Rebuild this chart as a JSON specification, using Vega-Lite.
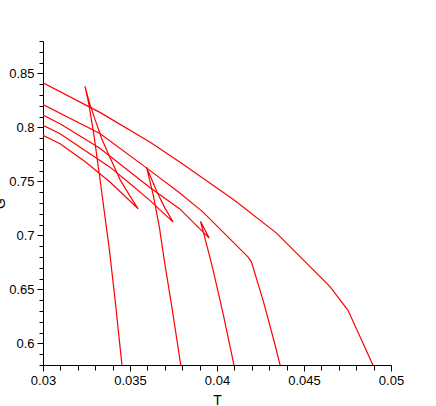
{
  "$schema": "https://vega.github.io/schema/vega-lite/v6.json",
  "autosize": "none",
  "width": 348,
  "height": 324,
  "padding": {"left": 43, "top": 41, "right": 45, "bottom": 41},
  "background": "white",
  "config": {
    "view": {"stroke": null},
    "axis": {
      "grid": false,
      "domainColor": "black",
      "tickColor": "black",
      "labelColor": "black",
      "titleColor": "black",
      "labelFont": "Liberation Sans",
      "titleFont": "Liberation Sans",
      "labelFontSize": 13,
      "titleFontSize": 14,
      "titleFontWeight": "normal",
      "labelOverlap": false,
      "labelFlush": false,
      "labelPadding": 3
    }
  },
  "data": {
    "values": [
      {"s": 1, "i": 0, "T": 0.03, "G": 0.8412},
      {"s": 1, "i": 1, "T": 0.03327, "G": 0.8139},
      {"s": 1, "i": 2, "T": 0.03614, "G": 0.7864},
      {"s": 1, "i": 3, "T": 0.03786, "G": 0.7679},
      {"s": 1, "i": 4, "T": 0.04102, "G": 0.7324},
      {"s": 1, "i": 5, "T": 0.04342, "G": 0.7021},
      {"s": 1, "i": 6, "T": 0.04648, "G": 0.6528},
      {"s": 1, "i": 7, "T": 0.04753, "G": 0.6306},
      {"s": 1, "i": 8, "T": 0.04897, "G": 0.5796},

      {"s": 2, "i": 0, "T": 0.03, "G": 0.8211},
      {"s": 2, "i": 1, "T": 0.03327, "G": 0.7944},
      {"s": 2, "i": 2, "T": 0.03614, "G": 0.7602},
      {"s": 2, "i": 3, "T": 0.03786, "G": 0.7392},
      {"s": 2, "i": 4, "T": 0.0392, "G": 0.7216},
      {"s": 2, "i": 5, "T": 0.04179, "G": 0.6799},
      {"s": 2, "i": 6, "T": 0.04198, "G": 0.6753},
      {"s": 2, "i": 7, "T": 0.04265, "G": 0.6398},
      {"s": 2, "i": 8, "T": 0.04332, "G": 0.5997},
      {"s": 2, "i": 9, "T": 0.04363, "G": 0.5796},

      {"s": 3, "i": 0, "T": 0.03, "G": 0.8114},
      {"s": 3, "i": 1, "T": 0.03098, "G": 0.8034},
      {"s": 3, "i": 2, "T": 0.03327, "G": 0.7806},
      {"s": 3, "i": 3, "T": 0.03614, "G": 0.7444},
      {"s": 3, "i": 4, "T": 0.03786, "G": 0.7245},
      {"s": 3, "i": 5, "T": 0.03955, "G": 0.6975},
      {"s": 3, "i": 6, "T": 0.03905, "G": 0.713},
      {"s": 3, "i": 7, "T": 0.03949, "G": 0.6861},
      {"s": 3, "i": 8, "T": 0.03978, "G": 0.6676},
      {"s": 3, "i": 9, "T": 0.04035, "G": 0.6275},
      {"s": 3, "i": 10, "T": 0.04098, "G": 0.5796},

      {"s": 4, "i": 0, "T": 0.03, "G": 0.8019},
      {"s": 4, "i": 1, "T": 0.03098, "G": 0.7942},
      {"s": 4, "i": 2, "T": 0.03385, "G": 0.7632},
      {"s": 4, "i": 3, "T": 0.03499, "G": 0.7481},
      {"s": 4, "i": 4, "T": 0.03614, "G": 0.7324},
      {"s": 4, "i": 5, "T": 0.03748, "G": 0.7123},
      {"s": 4, "i": 6, "T": 0.037, "G": 0.7255},
      {"s": 4, "i": 7, "T": 0.03654, "G": 0.7407},
      {"s": 4, "i": 8, "T": 0.0362, "G": 0.7537},
      {"s": 4, "i": 9, "T": 0.03595, "G": 0.7632},
      {"s": 4, "i": 10, "T": 0.03634, "G": 0.737},
      {"s": 4, "i": 11, "T": 0.03669, "G": 0.7074},
      {"s": 4, "i": 12, "T": 0.03697, "G": 0.6769},
      {"s": 4, "i": 13, "T": 0.03741, "G": 0.6333},
      {"s": 4, "i": 14, "T": 0.03792, "G": 0.5796},

      {"s": 5, "i": 0, "T": 0.03, "G": 0.7926},
      {"s": 5, "i": 1, "T": 0.03098, "G": 0.7849},
      {"s": 5, "i": 2, "T": 0.03241, "G": 0.7685},
      {"s": 5, "i": 3, "T": 0.03385, "G": 0.7494},
      {"s": 5, "i": 4, "T": 0.03547, "G": 0.7247},
      {"s": 5, "i": 5, "T": 0.03499, "G": 0.7366},
      {"s": 5, "i": 6, "T": 0.03442, "G": 0.7519},
      {"s": 5, "i": 7, "T": 0.03385, "G": 0.7722},
      {"s": 5, "i": 8, "T": 0.03337, "G": 0.7898},
      {"s": 5, "i": 9, "T": 0.03299, "G": 0.8074},
      {"s": 5, "i": 10, "T": 0.0327, "G": 0.8213},
      {"s": 5, "i": 11, "T": 0.03241, "G": 0.838},
      {"s": 5, "i": 12, "T": 0.03264, "G": 0.8213},
      {"s": 5, "i": 13, "T": 0.03293, "G": 0.7926},
      {"s": 5, "i": 14, "T": 0.03327, "G": 0.7528},
      {"s": 5, "i": 15, "T": 0.03382, "G": 0.6861},
      {"s": 5, "i": 16, "T": 0.03416, "G": 0.638},
      {"s": 5, "i": 17, "T": 0.03454, "G": 0.5796}
    ]
  },
  "mark": {"type": "line", "color": "#ff0000", "strokeWidth": 1.2, "clip": true},
  "encoding": {
    "x": {
      "field": "T",
      "type": "quantitative",
      "scale": {"domain": [0.03, 0.05], "nice": false, "zero": false},
      "axis": {
        "title": "T",
        "titleX": 174,
        "titleY": 39,
        "titleBaseline": "alphabetic",
        "values": [0.03, 0.031, 0.032, 0.033, 0.034, 0.035, 0.036, 0.037, 0.038, 0.039, 0.04, 0.041, 0.042, 0.043, 0.044, 0.045, 0.046, 0.047, 0.048, 0.049, 0.05],
        "labelExpr": "round(datum.value*1000) % 5 === 0 ? format(datum.value, '~g') : ''",
        "tickSize": {"condition": {"test": "round(datum.value*1000) % 5 === 0", "value": 6}, "value": 5}
      }
    },
    "y": {
      "field": "G",
      "type": "quantitative",
      "scale": {"domain": [0.58, 0.88], "nice": false, "zero": false},
      "axis": {
        "title": "G",
        "titleX": -39,
        "titleBaseline": "alphabetic",
        "values": [0.58, 0.59, 0.6, 0.61, 0.62, 0.63, 0.64, 0.65, 0.66, 0.67, 0.68, 0.69, 0.7, 0.71, 0.72, 0.73, 0.74, 0.75, 0.76, 0.77, 0.78, 0.79, 0.8, 0.81, 0.82, 0.83, 0.84, 0.85, 0.86, 0.87, 0.88],
        "labelExpr": "round(datum.value*100) % 5 === 0 ? format(datum.value, '~g') : ''",
        "tickSize": {"condition": {"test": "round(datum.value*100) % 5 === 0", "value": 6}, "value": 4}
      }
    },
    "detail": {"field": "s", "type": "nominal"},
    "order": {"field": "i", "type": "quantitative"}
  }
}
